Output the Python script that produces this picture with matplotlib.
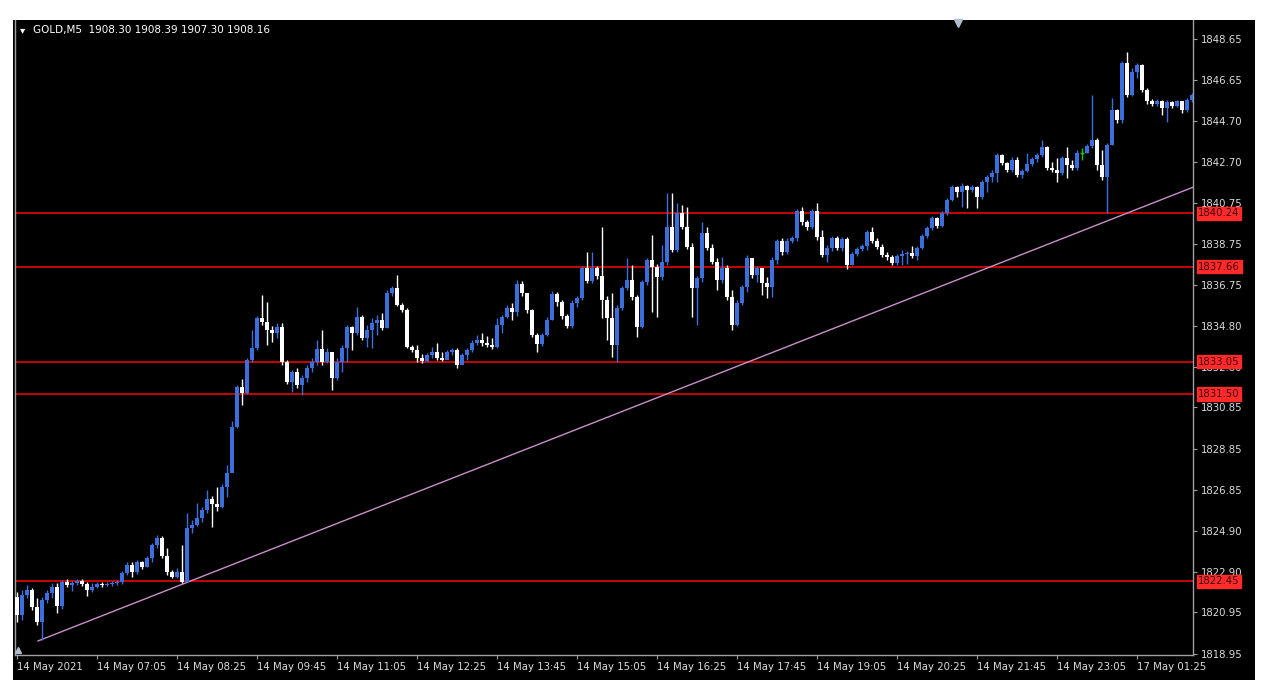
import numpy as np
import matplotlib
matplotlib.use("Agg")
import matplotlib.pyplot as plt

# GOLD M5, 14 May 2021 -> 17 May 2021
first_open = 1821.70
closes = [
    1820.82, 1821.79, 1822.04, 1821.21, 1820.48, 1821.55, 1821.89, 1822.18, 1821.26, 1822.42,
    1822.28, 1822.37, 1822.47, 1822.33, 1822.04, 1822.18, 1822.33, 1822.28, 1822.33, 1822.37,
    1822.42, 1822.86, 1823.24, 1822.91, 1823.39, 1823.15, 1823.58, 1824.21, 1824.55, 1823.68,
    1822.91, 1822.66, 1822.91, 1822.42, 1825.03, 1825.18, 1825.51, 1825.90, 1826.43, 1826.19,
    1826.04, 1827.01, 1827.69, 1829.91, 1831.84, 1831.55, 1833.14, 1833.72, 1835.17, 1834.98,
    1834.59, 1834.45, 1834.74, 1833.05, 1832.08, 1832.56, 1831.93, 1832.27, 1832.76, 1833.05,
    1833.67, 1833.05, 1833.53, 1832.27, 1833.05, 1833.72, 1834.74, 1834.45, 1835.22, 1834.21,
    1834.59, 1834.93, 1835.07, 1834.69, 1836.38, 1836.62, 1835.80, 1835.56, 1833.77, 1833.62,
    1833.24, 1833.10, 1833.38, 1833.53, 1833.24, 1833.14, 1833.53, 1833.62, 1832.90, 1833.38,
    1833.62, 1833.96, 1834.11, 1833.96, 1833.87, 1833.77, 1834.83, 1835.22, 1835.65, 1835.46,
    1836.81, 1836.38, 1835.56, 1834.35, 1833.91, 1834.35, 1835.07, 1836.33, 1835.94, 1835.27,
    1834.78, 1835.90, 1836.14, 1837.59, 1836.96, 1837.59, 1837.20, 1836.04, 1835.17, 1833.87,
    1835.65, 1836.62, 1837.01, 1836.19, 1834.74, 1836.91, 1837.97, 1837.63, 1837.15, 1837.88,
    1839.57, 1838.46, 1840.24, 1839.57, 1838.60, 1836.62, 1837.10, 1839.28, 1838.55, 1837.88,
    1837.01, 1837.59, 1836.19, 1834.83, 1835.90, 1836.67, 1838.07, 1837.25, 1837.59, 1836.86,
    1836.67, 1837.97, 1838.89, 1838.36, 1838.89, 1839.04, 1840.34, 1839.81, 1839.57, 1840.34,
    1839.08, 1838.21, 1838.55, 1839.04, 1838.55, 1838.99, 1837.73, 1838.26, 1838.50, 1838.65,
    1839.33, 1838.89, 1838.60, 1838.21, 1838.12, 1837.83, 1838.17, 1838.26, 1838.31, 1838.17,
    1838.55, 1839.13, 1839.52, 1840.00, 1839.61, 1840.24, 1840.87, 1841.50, 1841.26, 1841.55,
    1841.35, 1841.50, 1841.02, 1841.74, 1841.98, 1842.17, 1843.04, 1842.66, 1842.32, 1842.80,
    1842.08, 1842.27, 1842.61, 1842.85, 1843.04, 1843.43, 1842.42, 1842.32, 1842.17, 1842.90,
    1842.56, 1842.42, 1843.14, 1843.14, 1843.48, 1843.77, 1842.56, 1841.98, 1843.53, 1845.22,
    1844.74, 1847.49, 1845.94, 1847.05, 1847.39, 1846.18, 1845.65, 1845.51, 1845.65, 1845.32,
    1845.60, 1845.41, 1845.65, 1845.22, 1845.70, 1845.94,
]
highs = [
    1821.94, 1822.04, 1822.28, 1822.13, 1821.65, 1821.70, 1822.04, 1822.37, 1822.37, 1822.52,
    1822.57, 1822.47, 1822.57, 1822.57, 1822.42, 1822.37, 1822.42, 1822.42, 1822.42, 1822.47,
    1822.52, 1822.95, 1823.39, 1823.39, 1823.48, 1823.44, 1823.68, 1824.31, 1824.69, 1824.65,
    1824.07, 1823.00, 1823.10, 1824.21, 1825.76, 1825.42, 1826.24, 1826.04, 1826.86, 1826.57,
    1827.01, 1827.15, 1828.07, 1830.20, 1831.93, 1832.22, 1833.24, 1834.59, 1835.27, 1836.28,
    1835.94, 1834.78, 1834.93, 1834.93, 1833.14, 1832.66, 1832.76, 1832.42, 1832.90, 1833.24,
    1834.11, 1834.59, 1833.72, 1833.53, 1833.24, 1833.87, 1834.83, 1834.78, 1835.70, 1835.32,
    1834.83, 1835.17, 1835.32, 1835.41, 1836.52, 1836.72, 1837.25, 1835.90, 1835.65, 1833.87,
    1833.87, 1833.43, 1833.48, 1833.77, 1833.96, 1833.53, 1833.62, 1833.72, 1833.72, 1833.48,
    1833.72, 1834.11, 1834.35, 1834.45, 1834.30, 1834.21, 1835.17, 1835.32, 1835.80, 1835.90,
    1837.01, 1836.96, 1836.23, 1835.61, 1834.45, 1834.45, 1835.22, 1836.48, 1836.43, 1836.04,
    1835.36, 1836.04, 1836.23, 1837.68, 1838.36, 1838.36, 1837.68, 1839.57, 1836.23, 1836.38,
    1835.80, 1836.72, 1838.07, 1837.73, 1836.28, 1837.01, 1838.07, 1839.18, 1837.78, 1838.70,
    1841.21, 1841.21, 1840.73, 1840.63, 1840.53, 1838.79, 1837.20, 1839.81, 1839.57, 1838.75,
    1838.07, 1838.12, 1837.73, 1836.52, 1836.04, 1836.76, 1838.21, 1837.68, 1837.68, 1837.59,
    1837.15, 1838.12, 1838.99, 1839.04, 1839.04, 1839.13, 1840.44, 1840.53, 1839.90, 1840.44,
    1840.73, 1839.42, 1838.70, 1839.13, 1839.13, 1839.08, 1839.08, 1838.36, 1838.60, 1838.75,
    1839.42, 1839.57, 1839.04, 1838.75, 1838.36, 1838.21, 1838.26, 1838.46, 1838.41, 1838.65,
    1838.65, 1839.23, 1839.61, 1840.10, 1840.05, 1840.34, 1840.97, 1841.60, 1841.55, 1841.69,
    1841.60, 1841.60, 1841.55, 1841.84, 1842.08, 1842.32, 1843.14, 1843.09, 1842.71, 1842.95,
    1842.95, 1842.37, 1843.14, 1842.95, 1843.14, 1843.77, 1843.48, 1842.71, 1842.90, 1843.00,
    1843.43, 1842.80, 1843.29, 1843.38, 1843.58, 1845.94, 1843.87, 1843.29, 1843.62, 1845.80,
    1845.27, 1847.58, 1848.02, 1847.25, 1847.49, 1847.44, 1846.28, 1845.75, 1845.75, 1845.70,
    1845.70, 1845.65, 1845.70, 1845.65, 1845.80, 1846.04,
]
lows = [
    1820.48, 1820.58, 1821.65, 1821.07, 1820.34, 1819.62, 1821.41, 1821.65, 1820.92, 1821.12,
    1822.18, 1821.99, 1822.28, 1822.23, 1821.75, 1821.94, 1822.13, 1822.18, 1822.23, 1822.23,
    1822.28, 1822.33, 1822.76, 1822.66, 1822.81, 1823.05, 1823.15, 1823.39, 1824.07, 1823.58,
    1822.76, 1822.62, 1822.62, 1822.37, 1822.42, 1824.79, 1825.13, 1825.32, 1825.76, 1825.08,
    1825.85, 1826.00, 1826.53, 1827.83, 1829.86, 1830.97, 1831.50, 1833.05, 1833.62, 1834.83,
    1833.87, 1834.01, 1834.21, 1832.90, 1831.98, 1831.60, 1831.79, 1831.45, 1832.08, 1832.56,
    1832.90, 1832.90, 1833.00, 1831.69, 1832.17, 1832.56, 1833.05, 1833.62, 1834.35, 1834.11,
    1833.77, 1833.72, 1834.35, 1834.59, 1834.69, 1836.23, 1835.75, 1835.46, 1833.72, 1833.53,
    1833.05, 1833.00, 1833.05, 1833.24, 1833.14, 1833.10, 1833.29, 1833.38, 1832.76, 1832.95,
    1833.14, 1833.53, 1833.87, 1833.82, 1833.77, 1833.67, 1833.72, 1834.45, 1835.17, 1835.07,
    1835.27, 1836.23, 1835.41, 1834.25, 1833.53, 1833.82, 1834.30, 1835.07, 1835.75, 1835.12,
    1834.69, 1834.69, 1835.70, 1836.04, 1836.86, 1836.86, 1837.06, 1835.17, 1834.11, 1833.29,
    1833.05, 1835.56, 1836.52, 1836.04, 1834.25, 1834.69, 1836.76, 1835.46, 1835.22, 1837.01,
    1837.73, 1838.36, 1838.36, 1839.47, 1838.50, 1835.22, 1834.83, 1836.91, 1838.46, 1837.78,
    1836.52, 1836.86, 1836.04, 1834.59, 1834.78, 1835.80, 1836.43, 1837.10, 1836.91, 1836.28,
    1836.14, 1836.19, 1837.78, 1838.21, 1838.26, 1838.79, 1838.89, 1839.66, 1839.42, 1839.47,
    1838.94, 1838.12, 1837.88, 1838.41, 1838.46, 1838.41, 1837.54, 1837.73, 1838.17, 1838.41,
    1838.46, 1838.79, 1838.50, 1838.12, 1837.97, 1837.73, 1837.73, 1837.73, 1837.78, 1838.07,
    1837.97, 1838.50, 1839.04, 1839.42, 1839.52, 1839.57, 1840.15, 1840.82, 1841.02, 1840.53,
    1840.48, 1841.26, 1840.48, 1840.92, 1841.26, 1841.74, 1841.74, 1842.56, 1842.22, 1842.22,
    1841.98, 1841.93, 1842.22, 1842.51, 1842.71, 1842.95, 1842.32, 1842.22, 1841.74, 1842.08,
    1841.93, 1842.32, 1842.32, 1842.80, 1843.14, 1843.38, 1842.32, 1841.84, 1840.24, 1843.53,
    1844.59, 1844.59, 1845.85, 1845.89, 1846.77, 1846.09, 1845.51, 1845.41, 1845.41, 1844.98,
    1844.64, 1845.32, 1845.36, 1845.08, 1845.13, 1845.60,
]

# x-axis labels every 16 bars
time_labels = ["14 May 2021", "14 May 07:05", "14 May 08:25", "14 May 09:45", "14 May 11:05",
               "14 May 12:25", "14 May 13:45", "14 May 15:05", "14 May 16:25", "14 May 17:45",
               "14 May 19:05", "14 May 20:25", "14 May 21:45", "14 May 23:05", "17 May 01:25"]
price_ticks = [1848.65, 1846.65, 1844.70, 1842.70, 1840.75, 1838.75, 1836.75, 1834.80,
               1832.80, 1830.85, 1828.85, 1826.85, 1824.90, 1822.90, 1820.95, 1818.95]
levels = [1840.24, 1837.66, 1833.05, 1831.50, 1822.45]
# trend line drawn from its anchor out to the right edge
trend_bars = [4.2, 235.2]
trend_prices = [1819.57, 1841.49]
header = "GOLD,M5  1908.30 1908.39 1907.30 1908.16"

closes = np.array(closes)
highs = np.array(highs)
lows = np.array(lows)
opens = np.concatenate([[first_open], closes[:-1]])
idx = np.arange(len(closes))

BULL = "#3c6fdc"
BEAR = "#ffffff"
TXT = "#dcdcdc"

fig = plt.figure(figsize=(12.7, 7.0), dpi=100, facecolor="white")
# black chart window
bg = fig.add_axes([13 / 1270, 20 / 700, 1242 / 1270, 660 / 700])
bg.set_facecolor("black")
bg.set_xticks([])
bg.set_yticks([])
for s in bg.spines.values():
    s.set_visible(False)

ax = fig.add_axes([15 / 1270, 1 - 655 / 700, 1178 / 1270, 635 / 700])
ax.set_facecolor("black")
ax.set_xlim(-0.4, 235.2)
ax.set_ylim(1818.89, 1849.57)

up = closes > opens
down = closes < opens
doji = closes == opens
w = 0.62

for mask, col in [(up, BULL), (down, BEAR)]:
    ax.vlines(idx[mask], lows[mask], highs[mask], color=col, lw=1.0, zorder=3)
    bot = np.minimum(opens[mask], closes[mask])
    hgt = np.maximum(np.abs(closes[mask] - opens[mask]), 0.05)
    ax.bar(idx[mask], hgt, bottom=bot, width=w, color=col, linewidth=0, zorder=4)
ax.vlines(idx[doji], lows[doji], highs[doji], color="#00d000", lw=1.0, zorder=3)
ax.hlines(closes[doji], idx[doji] - w / 2, idx[doji] + w / 2, color="#00d000", lw=1.0, zorder=3)

for lv in levels:
    ax.axhline(lv, color="#e80000", lw=1.2, zorder=2)
    ax.annotate(f"{lv:.2f}", xy=(1.0045, lv), xycoords=("axes fraction", "data"),
                va="center", ha="left", fontsize=7.3, color="#400000",
                bbox=dict(boxstyle="square,pad=0.15", fc="#ff2a2a", ec="#ff2a2a"),
                annotation_clip=False, zorder=6)

ax.plot(trend_bars, trend_prices, color="#c890c8", lw=1.0, zorder=2)

ax.yaxis.tick_right()
ax.set_yticks(price_ticks)
ax.set_yticklabels([f"{p:.2f}" for p in price_ticks])
ax.set_xticks(np.arange(len(time_labels)) * 16)
ax.set_xticklabels(time_labels, ha="left")
ax.tick_params(axis="both", colors="#a0a0a0", labelcolor=TXT, labelsize=7.3,
               length=3, width=0.8, direction="out")
ax.tick_params(axis="y", pad=3)
ax.tick_params(axis="x", pad=2)
ax.spines["top"].set_visible(False)
for side in ["left", "right", "bottom"]:
    ax.spines[side].set_color("#a0a0a0")
    ax.spines[side].set_linewidth(1.0)

# MT chart markers: shift marker at top, corner marker bottom-left
fig.lines.append(plt.Line2D([958 / 1270], [1 - 23 / 700], marker="v", markersize=6,
                            color="#b0bccf", transform=fig.transFigure))
fig.lines.append(plt.Line2D([18 / 1270], [1 - 650 / 700], marker="^", markersize=4,
                            color="#b0bccf", transform=fig.transFigure))

fig.text(20 / 1270, 1 - 30 / 700, "\u25be", color="white", fontsize=7.5, va="center")
fig.text(33 / 1270, 1 - 30 / 700, header, color="white", fontsize=7.5, va="center")

fig.savefig("out.png", dpi=100, facecolor="white")
